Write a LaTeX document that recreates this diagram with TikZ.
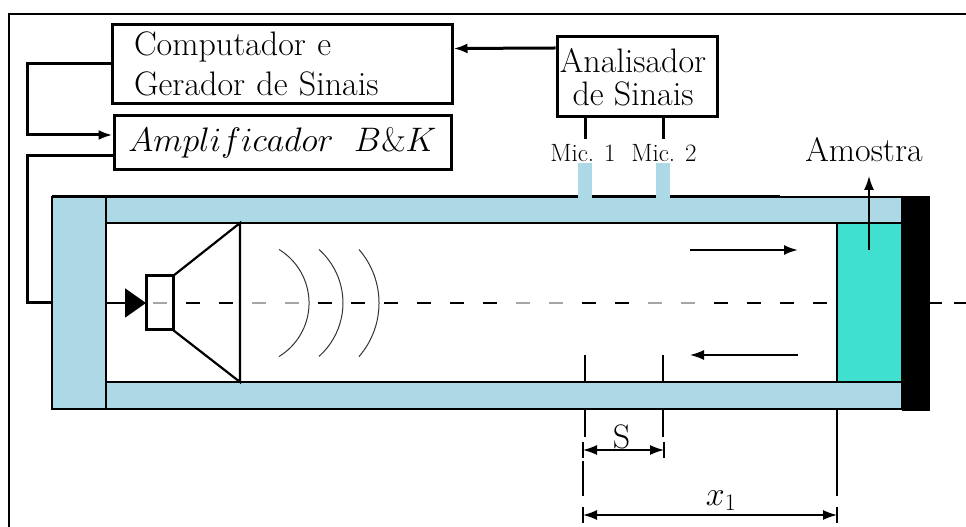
\documentclass[tikz,border=0pt]{standalone}
\usepackage{fix-cm}
\usetikzlibrary{arrows.meta}
\definecolor{tubeblue}{RGB}{173,216,230}
\definecolor{sampleteal}{RGB}{64,224,208}
\begin{document}
\begin{tikzpicture}[x=1pt,y=1pt,line width=1.6pt,>={Latex[length=14,width=10]},
 line join=miter,font=\fontsize{34}{40}\selectfont,
 wire/.style={line width=3pt},
 thinline/.style={line width=1.5pt},
 blockbox/.style={draw,line width=3pt,inner sep=0pt,align=center},
 wallbox/.style={draw,fill=tubeblue,line width=1.6pt,inner sep=0pt,outer sep=0pt},
 miclabel/.style={font=\fontsize{25}{28}\selectfont,inner sep=5pt}]
 \useasboundingbox (0,0) rectangle (966,527);
 \draw (9,0)--(9,513)--(966,513);
 % instruments
 \node[blockbox,minimum width=340,minimum height=79,text width=296,inner xsep=22pt,align=left]
  (computador) at (282,463) {Computador e\\Gerador de Sinais};
 \node[blockbox,minimum width=337,minimum height=54] (amplificador) at (282.5,384)
  {$Amplificador\ \ B\&K$};
 \node[blockbox,minimum width=160,minimum height=80,font=\fontsize{34}{33}\selectfont]
  (analisador) at (637,450) {Analisador\kern8pt\\de Sinais\kern8pt};
 \node[miclabel] (mic1) at (583,374) {Mic. 1};
 \node[miclabel] (mic2) at (664,374) {Mic. 2};
 \node[inner sep=0pt] (amostralabel) at (864,377) {Amostra};
 \draw[wire,->] ([yshift=29]analisador.west)--([yshift=15.5]computador.east);
 \draw[wire] ([xshift=-52]analisador.south)--([xshift=2]mic1.north);
 \draw[wire] ([xshift=26]analisador.south)--([xshift=-1]mic2.north);
 \draw[wire,->] (computador.west)--++(-83.5,0)|-([yshift=8]amplificador.west);
 % tube
 \node[wallbox,minimum width=54,minimum height=212] (plugue) at (79,224) {};
 \draw[wire] ([yshift=-13]amplificador.west)-|(27,224)--(plugue.west);
 \draw[wallbox] (plugue.north east) rectangle (902,304);
 \draw[wallbox] (plugue.south east) rectangle (902,145);
 \draw[wire] (plugue.north west)--(780,330);
 \foreach \xpos in {578,656}{
  \fill[tubeblue] (\xpos,328) rectangle ++(14,36);
 }
 % axis
 \draw[line width=1.1pt,dash pattern=on 14pt off 19pt] (186,224)--(837,224);
 \foreach \xpos in {153,252,285,516,549,648,681}{
  \draw[line width=1.5pt,white] (\xpos,224)--++(14,0);
  \draw[line width=1.1pt,black!35] (\xpos,224)--++(14,0);
 }
 \draw[line width=1.1pt,dash pattern=on 12pt off 12pt] (930,224)--(966,224);
 % speaker
 \node[draw,line width=3pt,minimum width=27,minimum height=54,inner sep=0pt,outer sep=0pt] (falante) at (159.5,224) {};
 \draw[line width=2.2pt] (falante.north east)--(240,304)--(240,145)--(falante.south east);
 \draw[line width=2pt,-{Triangle[length=21,width=29]}] (plugue.east)--(falante.west);
 \foreach \xpos/\radius/\angle in {279/62.7/58.6,319/71.6/48.3,359/81.6/41}{
  \draw[line width=1pt,black!80] (\xpos,277.5) arc[start angle=\angle,end angle=-\angle,radius=\radius];
 }
 % sample and end plate
 \node[draw,fill=sampleteal,line width=1.6pt,minimum width=65,minimum height=159,inner sep=0pt]
  (amostra) at (869.5,224.5) {};
 \node[fill=black,minimum width=28,minimum height=215,inner sep=0pt] (tampa) at (916,223.5) {};
 \draw[thinline,->] (869,277)--(869,351);
 \draw[line width=2.2pt,->] (690,277)--(798,277);
 \draw[thinline,->] (798,172)--(690,172);
 % dimensions
 \coordinate (sleft) at (583,77);
 \coordinate (sright) at (664,77);
 \coordinate (xleft) at (583,12);
 \coordinate (xright) at (837,12);
 \foreach \xpos in {585,663}{
  \draw[thinline] (\xpos,172)--(\xpos,145);
  \draw[thinline] (\xpos,118)--(\xpos,90);
 }
 \draw[thinline] (583,66)--(583,31);
 \draw[thinline] (837,118)--(837,31);
 \foreach \tick in {sleft,sright,xleft,xright}{
  \draw[thinline] ([yshift=8]\tick)--([yshift=-8]\tick);
 }
 \draw[thinline,<->] (sleft)--(sright) node[midway,above=0pt,xshift=-2pt,inner sep=0pt] (slabel) {S};
 \draw[thinline,<->] (xleft)--(xright);
 \node[inner sep=0pt] (xlabel) at (721,26) {$x_1$};
\end{tikzpicture}
\end{document}
